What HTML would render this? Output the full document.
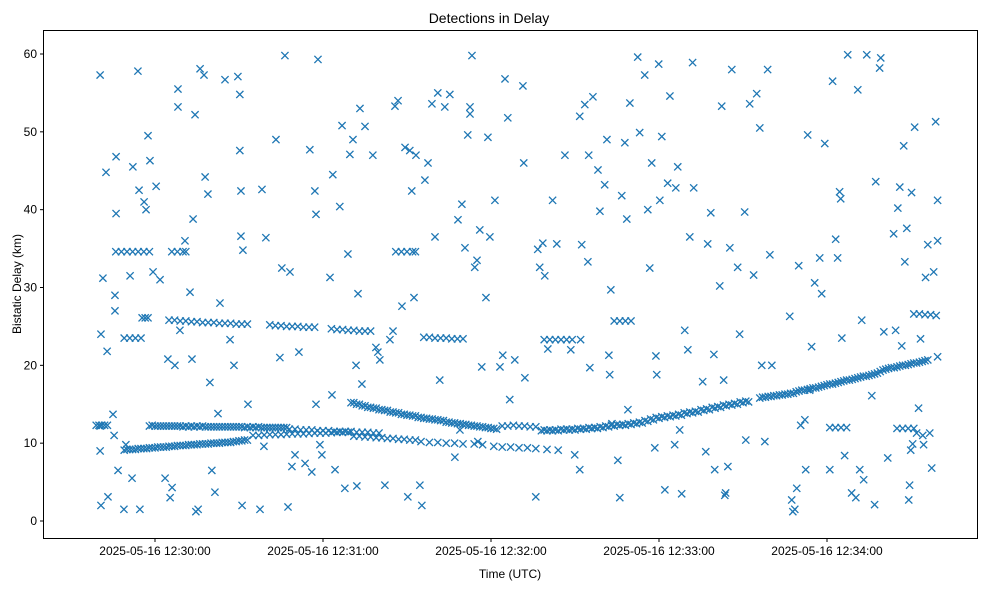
<!DOCTYPE html>
<html><head><meta charset="utf-8"><style>
html,body{margin:0;padding:0;background:#fff;}
svg{display:block;font-family:"Liberation Sans","DejaVu Sans",sans-serif;}
</style></head><body>
<svg id="chart" width="989" height="590" viewBox="0 0 989 590">
<rect x="0" y="0" width="989" height="590" fill="#fff"/>
<text x="489" y="23" text-anchor="middle" font-size="14" fill="#000">Detections in Delay</text>
<text x="510" y="578" text-anchor="middle" font-size="12" fill="#000">Time (UTC)</text>
<text transform="translate(21,284) rotate(-90)" text-anchor="middle" font-size="12" fill="#000">Bistatic Delay (km)</text>
<g id="marks"></g>
<g id="axes"></g>
<rect x="43.5" y="30.5" width="934" height="508" fill="none" stroke="#000" stroke-width="1"/>
</svg>
<script>
// seconds relative to 12:30:00 UTC
const xTickValues=[0,60,120,180,240];
const xTickLabels=["2025-05-16 12:30:00","2025-05-16 12:31:00","2025-05-16 12:32:00","2025-05-16 12:33:00","2025-05-16 12:34:00"];
const yTickValues=[0,10,20,30,40,50,60];

const trackA1T=[-11,-9,-7,-5,-3,-1,1,3,5,7,9,11,13,15,17,19,21,23,25,27,29,31,33];
const trackA1D=[9.1,9.2,9.2,9.3,9.3,9.4,9.5,9.5,9.6,9.6,9.7,9.7,9.8,9.8,9.9,9.9,10.0,10.0,10.1,10.1,10.2,10.3,10.4];
const trackA1bT=[-10,-8,-6,-4,-2,0,2,4,6,8,10,12,14,16,18,20,22,24,26,28,30,32];
const trackA1bD=[9.2,9.2,9.3,9.3,9.4,9.4,9.5,9.5,9.6,9.7,9.7,9.8,9.8,9.9,9.9,10.0,10.0,10.1,10.1,10.2,10.3,10.4];
const trackA2T=[35,37,39,41,43,45,47,49,51,53,55,57,59,61,63,65,67,69];
const trackA2D=[11.0,11.0,11.05,11.1,11.1,11.1,11.15,11.2,11.2,11.2,11.25,11.3,11.3,11.3,11.35,11.4,11.4,11.4];
const trackA3T=[71,73,75,77,79,81,83,85,87,89,91,93];
const trackA3D=[10.9,10.9,10.8,10.8,10.7,10.7,10.6,10.6,10.5,10.5,10.4,10.4];
const trackA4T=[95,98,101,104,107,110,114,117,121,124,127,130,133,136,140,144];
const trackA4D=[10.2,10.1,10.1,10.0,10.0,9.9,9.9,9.8,9.6,9.5,9.5,9.4,9.4,9.3,9.2,9.1];
const trackBT=[-21,-20,-19,-18,-17,-2,0,2,4,6,8,10,12,14,16,18,20,22,24,26,28,30,32,34,36,38,40,42,44,46,48,50,52,54,56,58,60,62,64,66,68,70,72,74,76,78,80];
const trackBD=[12.3,12.3,12.3,12.3,12.3,12.2,12.2,12.2,12.2,12.2,12.2,12.1,12.1,12.1,12.1,12.1,12.1,12.1,12.1,12.1,12.1,12.1,12.0,12.0,12.0,12.0,12.0,12.0,12.0,12.0,11.8,11.8,11.7,11.7,11.7,11.6,11.6,11.6,11.5,11.5,11.5,11.5,11.4,11.4,11.4,11.3,11.3];
const trackBbT=[-1,1,3,5,7,9,11,13,15,17,19,21,23,25,27,29,31,33,35,37,39,41,43,45,47];
const trackBbD=[12.3,12.2,12.2,12.2,12.2,12.2,12.2,12.2,12.2,12.2,12.1,12.1,12.1,12.1,12.1,12.1,12.1,12.1,12.1,12.1,12.0,12.0,12.0,12.0,12.0];
const trackC1T=[70,72,74,76,78,80,82,84,86,88,90,92,94,96,98,100,102,104,106,108,110,112,114,116,118,120,122,124,126,128,130,132,134,136];
const trackC1D=[15.2,15.0,14.8,14.6,14.5,14.3,14.2,14.0,13.9,13.7,13.6,13.5,13.3,13.2,13.1,13.0,12.9,12.7,12.6,12.5,12.4,12.3,12.2,12.1,12.0,11.9,11.8,12.2,12.2,12.3,12.2,12.2,12.1,12.1];
const trackC1bT=[71,73,75,77,79,81,83,85,87,89,91,93,95,97,99,101,103,105,107,109,111,113,115,117,119,121];
const trackC1bD=[15.2,15.0,14.8,14.6,14.5,14.3,14.2,14.0,13.9,13.7,13.6,13.5,13.3,13.2,13.1,13.0,12.9,12.7,12.6,12.5,12.4,12.3,12.2,12.1,12.0,11.9];
const trackC2T=[138,140,142,144,146,148,150,152,154,156,158,160,162,164,166,168,170,172,174,176,178,180,182,184,186,188,190,192,194,196,198,200,202,204,206,208,210,212];
const trackC2D=[11.6,11.6,11.6,11.6,11.7,11.7,11.7,11.8,11.8,11.9,11.9,12.0,12.1,12.2,12.3,12.3,12.4,12.5,12.6,12.8,13.0,13.2,13.3,13.4,13.5,13.6,13.8,13.9,14.0,14.2,14.3,14.5,14.6,14.8,14.9,15.0,15.2,15.3];
const trackC2bT=[139,141,143,145,147,149,151,153,155,157,159,161,163,165,167,169,171,173,175,177,179,181,183,185,187,189,191,193,195,197,199,201,203,205,207,209,211];
const trackC2bD=[11.7,11.7,11.7,11.8,11.8,11.8,11.9,11.9,12.0,12.0,12.1,12.2,12.3,12.4,12.4,12.5,12.6,12.7,12.9,13.1,13.3,13.4,13.5,13.6,13.7,13.9,14.0,14.1,14.3,14.4,14.6,14.7,14.9,15.0,15.1,15.3,15.4];
const trackC3T=[216,218,220,222,224,226,228,230,232,234,236,238,240,242,244,246,248,250,252,254,256,258,260,262,264,266,268,270,272,274,276,279.5];
const trackC3D=[15.8,15.9,16.0,16.1,16.2,16.3,16.4,16.7,16.8,17.0,17.1,17.3,17.5,17.6,17.8,18.0,18.1,18.3,18.5,18.6,18.8,19.0,19.4,19.6,19.7,19.9,20.0,20.2,20.3,20.5,20.7,21.1];
const trackC3bT=[217,219,221,223,225,227,229,231,233,235,237,239,241,243,245,247,249,251,253,255,257,259,261,263,265,267,269,271,273,275];
const trackC3bD=[15.9,16.0,16.1,16.2,16.3,16.4,16.6,16.8,16.9,17.1,17.2,17.4,17.6,17.7,17.9,18.1,18.2,18.4,18.6,18.7,18.9,19.2,19.5,19.7,19.8,20.0,20.1,20.3,20.4,20.6];
const track25T=[5,7,9,11,13,15,17,19,21,23,25,27,29,31,33,41,43,45,47,49,51,53,55,57,63,65,67,69,71,73,75,77,96,98,100,102,104,106,108,110,139,141,143,145,147,149,152,164,166,168,170,271,273,275,277,279];
const track25D=[25.8,25.8,25.7,25.7,25.6,25.6,25.5,25.5,25.5,25.4,25.4,25.4,25.3,25.3,25.3,25.2,25.1,25.1,25.0,25.0,25.0,24.9,24.9,24.9,24.7,24.6,24.6,24.5,24.5,24.4,24.4,24.4,23.6,23.6,23.5,23.5,23.5,23.4,23.4,23.4,23.3,23.3,23.3,23.3,23.3,23.3,23.3,25.7,25.7,25.7,25.7,26.6,26.6,26.5,26.5,26.4];
const clusterT=[-14,-12,-10,-8,-6,-4,-2,6,8,10,11,86,88,90,92,93,-11,-9,-7,-5,-4.6,-3.5,-2.5,241,243,245,247,265,267,269,271];
const clusterD=[34.6,34.6,34.6,34.6,34.6,34.6,34.6,34.6,34.6,34.6,34.6,34.6,34.6,34.6,34.6,34.6,23.5,23.5,23.5,23.5,26.1,26.1,26.1,12.0,12.0,12.0,12.0,11.9,11.9,11.9,11.9];
const scatterT=[-19.6,-19.3,-19.6,-19.6,-19.3,-18.6,-17.5,-17.1,-16.8,-15,-14.6,-14.3,-13.9,-13.9,-14.3,-13.2,-11.1,-10.4,-8.9,-8.2,-7.9,-6.1,-5.7,-5.4,-3.9,-3.2,-2.5,-1.8,-0.7,0.4,1.8,3.6,4.6,5.4,6.1,7.1,8.2,8.2,8.9,10.7,12.5,13.2,13.6,14.3,14.6,15.4,16.1,17.5,17.9,18.9,19.6,20.3,21.4,22.5,23.2,25,26.8,28.2,29.6,30.3,30.3,30.7,30.7,31.4,31.1,33.2,37.5,38.2,38.9,39.6,43.2,44.6,45.3,46.4,47.5,48.2,48.9,50,51.4,53.6,55.3,56,57.1,57.5,58.2,57.5,58.9,59.6,62.5,63.2,63.5,64.3,66,66.8,67.8,68.9,69.6,70.7,71.8,72.1,72.5,73.2,73.9,75,77.8,78.9,79.6,80.3,82.1,83.9,85,85.7,86.8,88.2,89.3,90.3,91,91.7,92.5,93.2,94.6,95.3,96.4,97.5,98.9,100,101,101.7,103.5,105.3,107.1,108.2,108.9,109.6,110.7,111.7,112.5,112.5,113.2,114.2,115,115.3,116,116.7,118.2,118.9,119.6,121.4,123.2,124.2,125,126,126.7,128.5,131.4,131.7,132.1,136,136.7,137.4,138.5,139.2,140.3,142,143.5,146.4,148.5,149.9,151.7,153.5,151.7,152.4,154.6,154.9,155.3,156.4,158.2,158.9,160.6,161.4,162.1,162.4,162.8,163.2,165.3,166,166.7,167.8,168.5,168.9,169.6,172.4,173.1,174.9,176,176.7,177.4,178.5,178.9,179.2,179.9,180.3,181,182.1,183.1,183.9,185.6,186,186.7,187.4,188.1,189.2,190.3,191,192,192.4,195.6,196.7,197.4,198.5,199.6,199.9,201.7,202.4,203.1,203.8,203.5,204.6,205.3,206,208.1,208.8,210.6,211,212.4,213.8,214.9,216,216.7,217.8,218.8,219.6,220.3,226.7,227.4,227.8,228.5,229.2,229.9,230.6,232.1,232.4,233.1,233.8,234.5,235.6,237.4,238.1,239.2,241,242,243.1,243.8,244.5,244.9,245.3,246.3,247.4,248.8,250.3,251,251.7,252.4,253.1,254.2,256,257,257.4,258.8,259.2,260.3,261.7,263.8,264.5,265.3,266,266.7,267.4,267.8,268.5,269.2,269.5,269.9,270.2,270.6,271.3,272,272.7,273.4,274.2,274.5,275.2,276,276.7,277.4,278.1,278.8,279.5,279.5];
const scatterD=[57.3,24,12.2,9,2,31.2,44.8,21.8,3.1,13.7,11,29,39.5,46.8,27,6.5,1.5,9.8,31.5,5.5,45.5,57.8,42.5,1.5,41,40,49.5,46.3,32,43,31,5.5,20.8,3,4.3,20,55.5,53.2,24.5,36,29.4,20.8,38.8,52.2,1.2,1.5,58.1,57.3,44.2,42,17.8,6.5,3.7,13.8,28,56.7,23.3,20,57.1,54.8,47.6,42.4,36.6,34.8,2,15,1.5,42.6,9.6,36.4,49,21,32.5,59.8,1.8,32,7,8.5,21.7,7.4,47.7,6.3,42.4,39.4,59.3,15,9.8,8.5,31.3,16.2,44.5,6.6,40.4,50.8,4.2,34.3,47.1,49,20,4.5,29.2,53,17.6,50.7,47,22.3,21.7,20.7,4.6,23.3,24.4,53.3,54,27.6,48,3.1,47.6,42.4,28.7,47,4.6,2,43.8,46,53.6,36.5,55,18.1,53.2,54.8,8.2,38.7,11.7,40.7,35.1,49.6,52.3,53.2,59.8,32.6,33.5,10.2,37.4,19.8,28.7,49.3,36.5,41.2,19.8,21.3,56.8,51.8,15.6,20.7,55.9,46,18.4,3.1,34.9,32.6,35.7,31.5,22.1,41.2,35.6,47,22,8.5,52,53.5,6.6,35.5,33.3,47,19.7,54.5,45.1,39.8,43.2,49,21.3,18.8,29.7,12.5,7.8,3,41.8,48.6,38.8,14.3,53.7,59.6,49.9,57.3,40,32.5,46,9.4,21.2,18.8,58.7,41.2,49.4,4,43.4,54.6,9.8,42.8,45.5,11.7,3.5,24.5,22,36.5,58.9,42.8,17.9,8.9,35.6,39.6,21.4,6.6,30.2,53.3,18.1,3.6,3.3,7,35.1,58,32.6,24,39.7,10.4,53.6,31.6,54.9,50.5,20,10.2,58,34.2,20,26.3,2.7,1.2,1.5,4.2,32.8,12.3,13,6.6,49.6,16.8,22.4,30.6,33.8,29.2,48.5,6.6,56.5,36.2,33.8,42.3,41.4,23.5,8.4,59.9,3.6,3,55.4,6.6,25.8,5.3,59.9,16.1,2.1,43.6,58.2,59.5,24.3,8.1,36.9,24.5,40.2,42.9,22.5,48.2,33.3,37.6,2.7,4.6,9.1,42.2,9.9,50.6,11.3,14.5,23.4,11,9.8,31.3,35.5,11.3,6.8,32,51.3,36,41.2];

const seriesT=[trackA1T,trackA1bT,trackA2T,trackA3T,trackA4T,trackBT,trackBbT,trackC1T,trackC1bT,trackC2T,trackC2bT,trackC3T,trackC3bT,track25T,clusterT,scatterT];
const seriesD=[trackA1D,trackA1bD,trackA2D,trackA3D,trackA4D,trackBD,trackBbD,trackC1D,trackC1bD,trackC2D,trackC2bD,trackC3D,trackC3bD,track25D,clusterD,scatterD];

const NS="http://www.w3.org/2000/svg";
function xScale(t){return 155+t*168/60;}
function yScale(d){return 521-d*(467/60);}
const marks=document.getElementById('marks');
const axes=document.getElementById('axes');
for(let s=0;s<seriesT.length;s++){
  const ts=seriesT[s], ds=seriesD[s];
  for(let i=0;i<ts.length;i++){
    const x=xScale(ts[i]), y=yScale(ds[i]), r=3.6;
    const p=document.createElementNS(NS,'path');
    p.setAttribute('d','M'+(x-r)+' '+(y-r)+'L'+(x+r)+' '+(y+r)+'M'+(x-r)+' '+(y+r)+'L'+(x+r)+' '+(y-r));
    p.setAttribute('stroke','#1f77b4');
    p.setAttribute('stroke-width','1.3');
    p.setAttribute('fill','none');
    
    
    marks.appendChild(p);
  }
}
for(let i=0;i<xTickValues.length;i++){
  const x=xScale(xTickValues[i]);
  const l=document.createElementNS(NS,'line');
  l.setAttribute('x1',x);l.setAttribute('x2',x);l.setAttribute('y1',538.5);l.setAttribute('y2',542);
  l.setAttribute('stroke','#000');
  
  
  axes.appendChild(l);
  const t=document.createElementNS(NS,'text');
  t.setAttribute('x',x);t.setAttribute('y',555);t.setAttribute('text-anchor','middle');t.setAttribute('font-size','12');
  t.textContent=xTickLabels[i];
  
  
  axes.appendChild(t);
}
for(let i=0;i<yTickValues.length;i++){
  const y=yScale(yTickValues[i]);
  const l=document.createElementNS(NS,'line');
  l.setAttribute('x1',40);l.setAttribute('x2',43.5);l.setAttribute('y1',y);l.setAttribute('y2',y);
  l.setAttribute('stroke','#000');
  
  
  axes.appendChild(l);
  const t=document.createElementNS(NS,'text');
  t.setAttribute('x',37);t.setAttribute('y',y+4);t.setAttribute('text-anchor','end');t.setAttribute('font-size','12');
  t.textContent=String(yTickValues[i]);
  
  
  axes.appendChild(t);
}
</script>
</body></html>
